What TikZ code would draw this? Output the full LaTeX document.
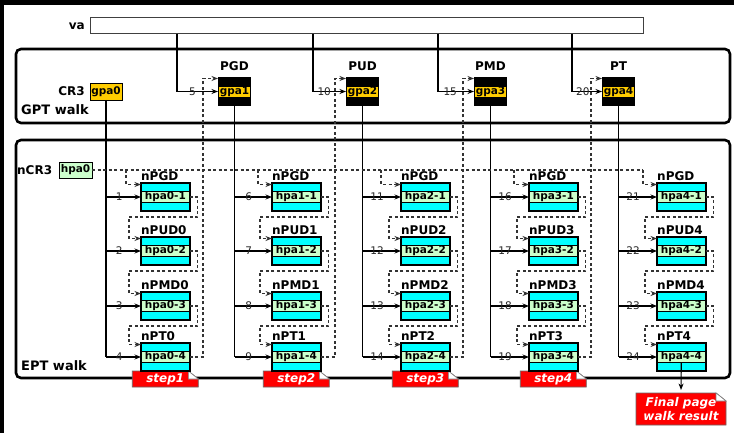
\documentclass[tikz,border=0pt]{standalone}
\usepackage{fontspec}
\setmainfont{DejaVu Sans}
\usetikzlibrary{arrows.meta,calc}
\definecolor{gold}{HTML}{FFCC00}
\definecolor{mint}{HTML}{CCFFCC}
\definecolor{cyanb}{HTML}{00FFFF}
\definecolor{redn}{HTML}{FF0000}
\tikzset{
 ln/.style={line width=1.1pt, draw=black},
 arr/.style={-{Stealth[length=6.5pt,width=5pt]}},
 dsh/.style={line width=1.1pt, draw=black!80, dash pattern=on 3pt off 2.5pt},
 num/.style={font=\fontsize{10.5}{10.5}\selectfont, inner sep=0pt, text=black!85},
 ttl/.style={font=\bfseries\fontsize{12}{12}\selectfont, inner sep=0pt},
 walklbl/.style={font=\bfseries\fontsize{13}{13}\selectfont, inner sep=0pt},
 walkbox/.style={line width=2.6pt, rounded corners=5pt},
 vabox/.style={draw=black!75, line width=1pt, minimum width=553pt, minimum height=16pt, inner sep=0pt, outer sep=0pt},
 gblk/.style={fill=black, minimum width=33pt, minimum height=29pt, inner sep=0pt, outer sep=0pt},
 goldlbl/.style={fill=gold, minimum width=31pt, minimum height=10.5pt, inner sep=0pt, font=\bfseries\fontsize{10.5}{10.5}\selectfont},
 goldbox/.style={fill=gold, draw=black, line width=0.8pt, minimum width=32pt, minimum height=17pt, inner sep=0pt, outer sep=0pt, font=\bfseries\fontsize{10.5}{10.5}\selectfont},
 mintbox/.style={fill=mint, draw=black, line width=0.8pt, minimum width=33pt, minimum height=16pt, inner sep=0pt, outer sep=0pt, font=\bfseries\fontsize{10.5}{10.5}\selectfont},
 eblk/.style={fill=cyanb, minimum width=48.6pt, minimum height=28pt, inner sep=0pt, outer sep=0pt},
 ecell/.style={fill=mint, draw=black, line width=0.8pt, minimum width=48.6pt, minimum height=11pt, inner sep=0pt, outer sep=0pt, font=\bfseries\fontsize{10.5}{10.5}\selectfont},
 eborder/.style={line width=1.8pt, draw=black},
 notetext/.style={text=white, font=\bfseries\itshape\fontsize{12}{14}\selectfont, inner sep=0pt, outer sep=0pt, align=center},
 noteshape/.style={fill=redn, draw=black!60, line width=0.8pt},
 noteflap/.style={fill=white, draw=black!50, line width=0.6pt}
}
% #1 name, #2 centre, #3 half width, #4 half height, #5 text
\newcommand\dognote[5]{%
 \coordinate (#1c) at #2;
 \path[noteshape] ($(#1c)+(-#3,-#4)$) -- ($(#1c)+(#3-10,-#4)$) -- ($(#1c)+(#3,-#4+8)$) -- ($(#1c)+(#3,#4)$) -- ($(#1c)+(-#3,#4)$) -- cycle;
 \path[noteflap] ($(#1c)+(#3-10,-#4)$) -- ($(#1c)+(#3-10,-#4+8)$) -- ($(#1c)+(#3,-#4+8)$) -- cycle;
 \node[notetext, minimum width=2*#3, minimum height=2*#4] (#1) at (#1c) {#5};
}
\begin{document}
\begin{tikzpicture}[x=1pt,y=-1pt]
\useasboundingbox (0,0) rectangle (734,433);
\fill[white] (0,0) rectangle (734,433);
\fill[black] (0,0) rectangle (4,433);
\fill[black] (0,0) rectangle (734,5);

% walk boxes
\draw[walkbox] (16,49) rectangle (730,123);
\node[walklbl, anchor=west] (gptlbl) at (21,110) {GPT walk};
\draw[walkbox] (16,140) rectangle (730,378);
\node[walklbl, anchor=west] (eptlbl) at (21,366) {EPT walk};

% step notes
\foreach \n/\cx in {1/165.3,2/296.3,3/425.3,4/553.3}{
  \dognote{s\n}{(\cx,379)}{33}{8}{step\n}
}
\dognote{fin}{(681,409)}{45}{16}{Final page\\walk result}

% va
\node[vabox] (va) at (366.5,26) {};
\node[ttl, anchor=east] (valbl) at (85,26.5) {va};

% CR3
\node[goldbox] (cr3) at (106,91.5) {gpa0};
\node[ttl, anchor=east] (cr3lbl) at (85,91.5) {CR3};

% GPT blocks
\foreach \k/\x/\t in {1/234.5/PGD,2/362.5/PUD,3/490.5/PMD,4/618.5/PT}{
  \node[gblk] (gpt\k) at (\x,91.5) {};
  \node[goldlbl] (gpa\k) at (\x,92) {gpa\k};
  \node[ttl] (gttl\k) at (\x,66) {\t};
}

% va taps
\foreach \k/\tx/\n/\p in {1/177/5/0.69,2/313/10/0.67,3/438/15/0.67,4/572/20/0.68}{
  \coordinate (tap\k) at (\tx,34);
  \draw[ln,arr] (tap\k) |- node[num,pos=\p]{\n} (gpt\k.west);
}

% nCR3
\node[mintbox] (ncr) at (75.5,170) {hpa0};
\node[ttl, anchor=west] (ncrlbl) at (17,170) {nCR3};

% EPT blocks
\foreach \k/\bx in {0/165.3,1/296.3,2/425.3,3/553.3,4/681.3}{
  \foreach \r/\ry/\lab in {1/197/nPGD,2/251/nPUD\k,3/306/nPMD\k,4/357/nPT\k}{
    \node[eblk] (b\k\r) at (\bx,\ry) {};
    \node[ecell] (e\k\r) at (\bx,\ry) {hpa\k-\r};
    \draw[eborder] (b\k\r.north west) rectangle (b\k\r.south east);
    \node[ttl, anchor=base west] (t\k\r) at ([yshift=2.5pt]b\k\r.north west) {\lab};
  }
}

% solid gpa lines into the EPT columns
\foreach \k/\src in {0/cr3,1/gpt1,2/gpt2,3/gpt3,4/gpt4}{
  \draw[ln] (\src.south) -- (\src.south |- e\k4.west);
  \foreach \r in {1,...,4}{
    \pgfmathtruncatemacro\nn{5*\k+\r}
    \draw[ln,arr] (\src.south |- e\k\r.west) -- node[num,pos=0.38]{\nn} (e\k\r.west);
  }
}

% nCR3 dashed feed
\foreach \k/\bxx in {0/126,1/258,2/381,3/514,4/643}{
  \coordinate (nb\k) at (\bxx,170);
}
\draw[dsh] (ncr.east) -- (nb4);
\foreach \k in {0,...,4}{
  \draw[dsh,arr] (nb\k) |- ([yshift=-1.5pt]b\k1.north west);
}

% loops between levels
\foreach \k in {0,...,4}{
  \foreach \r/\s in {1/2,2/3,3/4}{
    \draw[dsh,arr] (e\k\r.east) -| ($(b\k\r.south east)+(8,6)$) -- ($(b\k\r.south west)+(-12,6)$) |- ([yshift=-1.5pt]b\k\s.north west);
  }
}

% dashed results up to the next guest level
\foreach \k/\ux/\g in {0/203/1,1/335/2,2/463/3,3/591/4}{
  \coordinate (up\k) at (\ux,78.5);
  \draw[dsh,arr] (e\k4.east) -| (up\k) -- (up\k -| gpt\g.west);
}

% final result
\draw[ln,arr] (e44.south) -- ([yshift=3pt]fin.north);
\end{tikzpicture}
\end{document}
